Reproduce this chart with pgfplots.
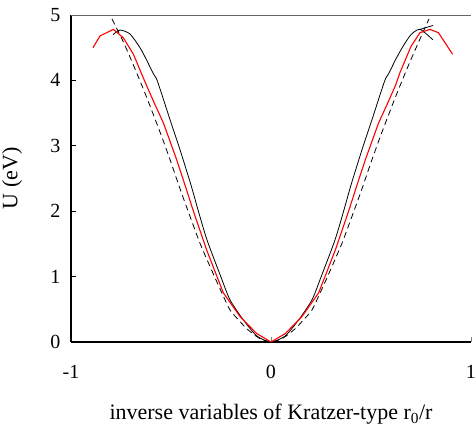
\documentclass[border=0pt]{standalone}
\usepackage{pgfplots}
\pgfplotsset{compat=1.18}
\usepackage{fontspec}
\setmainfont{Liberation Serif}
\begin{document}
\begin{tikzpicture}
\useasboundingbox (-71pt,-92pt) rectangle (404pt,342pt);
\begin{axis}[
  scale only axis, width=400pt, height=327pt,
  xmin=-1, xmax=1, ymin=0, ymax=5,
  axis lines=left, axis line style={-, line width=1.2pt, black},
  xtick={-1,0,1}, xticklabels={-1,0,1},
  ytick={0,1,2,3,4,5}, yticklabels={0,1,2,3,4,5},
  tick align=inside, major tick length=5pt,
  xtick style={gray, line width=0.8pt},
  ytick style={black, line width=0.8pt},
  ticklabel style={font=\fontsize{20}{22}\selectfont},
  xticklabel style={yshift=-20pt},
  yticklabel style={xshift=-7pt},
  xlabel={inverse variables of Kratzer-type r\textsubscript{0}/r},
  ylabel={U (eV)},
  label style={font=\fontsize{22}{24}\selectfont},
  xlabel style={at={(axis description cs:0.5,-0.222)}, anchor=center},
  ylabel style={at={(axis description cs:-0.1475,0.5)}, anchor=center},
]
\draw[black!60, line width=2pt] (rel axis cs:0,1) -- (rel axis cs:1,1);
\draw[black!55, line width=0.8pt] (rel axis cs:1,0) -- (rel axis cs:1,1);
% dashed
\addplot[black, line width=0.8pt, dash pattern=on 6pt off 4pt, smooth, tension=0.4] coordinates {
(-0.795,4.94) (-0.74,4.60) (-0.69,4.25) (-0.64,3.88) (-0.605,3.61) (-0.55,3.17)
(-0.505,2.79) (-0.45,2.30) (-0.40,1.88) (-0.355,1.51) (-0.30,1.12) (-0.25,0.78)
(-0.205,0.49) (-0.16,0.33) (-0.12,0.20) (-0.06,0.06) (0,0)
(0.06,0.06) (0.12,0.20) (0.16,0.33) (0.205,0.49) (0.25,0.78) (0.30,1.12)
(0.355,1.51) (0.40,1.88) (0.45,2.30) (0.505,2.79) (0.55,3.17) (0.605,3.61)
(0.64,3.88) (0.69,4.25) (0.74,4.60) (0.79,4.94)
};
% solid black
\addplot[black, line width=0.8pt, smooth, tension=0.4] coordinates {
(-0.79,4.70) (-0.755,4.77) (-0.705,4.71) (-0.655,4.50) (-0.625,4.33) (-0.588,4.10)
(-0.568,3.99) (-0.505,3.40) (-0.455,2.94) (-0.40,2.40) (-0.363,2.00) (-0.32,1.56)
(-0.251,1.00) (-0.205,0.644) (-0.138,0.337) (-0.07,0.09) (0,0)
(0.07,0.09) (0.138,0.337) (0.205,0.644) (0.251,1.00) (0.32,1.56) (0.363,2.00)
(0.40,2.40) (0.455,2.94) (0.505,3.40) (0.568,3.99) (0.588,4.10) (0.625,4.33)
(0.66,4.52) (0.70,4.70) (0.745,4.78) (0.81,4.62)
};
\addplot[black, line width=0.8pt] coordinates {(0.745,4.78) (0.81,4.84)};
% red
\addplot[red, line width=1.1pt] coordinates {
(-0.89,4.50) (-0.855,4.68) (-0.788,4.78) (-0.738,4.65) (-0.688,4.40) (-0.647,4.10)
(-0.622,3.92) (-0.58,3.63) (-0.538,3.35) (-0.472,2.79) (-0.43,2.40) (-0.388,2.00)
(-0.322,1.41) (-0.27,1.00) (-0.238,0.75) (-0.155,0.39) (-0.072,0.13) (0,0)
(0.072,0.13) (0.155,0.39) (0.238,0.75) (0.27,1.00) (0.322,1.41) (0.388,2.00)
(0.43,2.40) (0.472,2.79) (0.538,3.35) (0.58,3.63) (0.622,3.92) (0.645,4.12)
(0.70,4.52) (0.745,4.73) (0.795,4.78) (0.837,4.73) (0.908,4.40)
};
\end{axis}
\end{tikzpicture}
\end{document}
